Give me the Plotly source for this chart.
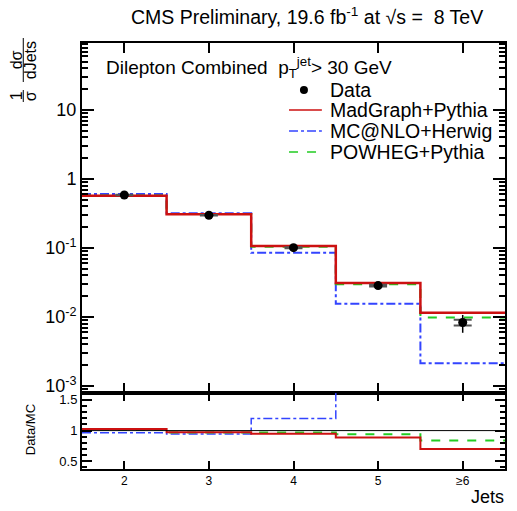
import plotly.graph_objects as go

# jet multiplicity bins
n_jets = [2, 3, 4, 5, 6]
jet_labels = ["2", "3", "4", "5", "≥6"]

# normalised cross section 1/sigma dsigma/dJets
data_vals = [0.586, 0.298, 0.101, 0.0285, 0.0083]
data_stat = [0.004, 0.003, 0.0015, 0.0008, 0.0008]
data_total = [0.012, 0.008, 0.004, 0.0028, 0.0024]
madgraph = [0.573, 0.308, 0.107, 0.0311, 0.01155]
mcatnlo = [0.606, 0.318, 0.085, 0.0156, 0.00213]
powheg = [0.578, 0.310, 0.104, 0.0298, 0.0098]

# data / MC ratios
ratio_madgraph = [1.026, 0.975, 0.95, 0.886, 0.70]
ratio_mcatnlo = [0.967, 0.945, 1.195, 1.85, 3.9]
ratio_powheg = [1.015, 0.97, 0.968, 0.94, 0.84]

RED = "#cc1111"
BLUE = "#3344ff"
GREEN = "#22cc22"
FONT = "Liberation Sans, Arial, sans-serif"

W, H = 517, 511
L, R, T, B = 82, 10, 43, 42


def px2x(px):
    return (px - L) / (W - L - R)


def py2y(py):
    return (H - B - py) / (H - T - B)


def steps(vals):
    edges = [c - 0.5 for c in n_jets] + [n_jets[-1] + 0.5]
    return edges, list(vals) + [vals[-1]]


fig = go.Figure()

# main panel histograms
for vals, color, dash, width in [
    (mcatnlo, BLUE, "dashdot", 2),
    (powheg, GREEN, "dash", 2),
    (madgraph, RED, "solid", 2.5),
]:
    xs, ys = steps(vals)
    fig.add_trace(go.Scatter(x=xs, y=ys, mode="lines", line_shape="hv",
                             line=dict(color=color, dash=dash, width=width),
                             xaxis="x", yaxis="y", showlegend=False))

# data: total error, stat error with caps, points
fig.add_trace(go.Scatter(x=n_jets, y=data_vals, mode="markers",
                         marker=dict(size=1, color="black"),
                         error_y=dict(type="data", array=data_total, width=0,
                                      thickness=1.5, color="black"),
                         xaxis="x", yaxis="y", showlegend=False))
fig.add_trace(go.Scatter(x=n_jets, y=data_vals, mode="markers",
                         marker=dict(size=9, color="black"),
                         error_y=dict(type="data", array=data_stat, width=9,
                                      thickness=2, color="#555555"),
                         xaxis="x", yaxis="y", showlegend=False))

# ratio panel
for vals, color, dash, width in [
    (ratio_mcatnlo, BLUE, "dashdot", 1.5),
    (ratio_powheg, GREEN, "dash", 2),
    (ratio_madgraph, RED, "solid", 2),
]:
    xs, ys = steps(vals)
    fig.add_trace(go.Scatter(x=xs, y=ys, mode="lines", line_shape="hv",
                             line=dict(color=color, dash=dash, width=width),
                             xaxis="x2", yaxis="y2", showlegend=False))

fig.add_shape(type="line", xref="x2 domain", yref="y2", x0=0, x1=1, y0=1, y1=1,
              line=dict(color="black", width=1))

axis_common = dict(showline=True, linewidth=2, linecolor="black", mirror="allticks",
                   ticks="inside", tickcolor="black", showgrid=False, zeroline=False)

minor_log = [m * 10 ** e for e in range(-4, 2) for m in range(2, 10)]

fig.update_layout(
    width=W, height=H,
    margin=dict(l=L, r=R, t=T, b=B),
    paper_bgcolor="white", plot_bgcolor="white",
    font=dict(family=FONT, color="black"),
    showlegend=False,
    xaxis=dict(domain=[0, 1], range=[1.5, 6.5], anchor="y", tickvals=n_jets,
               showticklabels=False, ticklen=10, tickwidth=1.5, **axis_common),
    yaxis=dict(domain=[0.1784, 1], type="log", range=[-3.102, 1.971], anchor="x",
               tickvals=[1e-3, 1e-2, 1e-1, 1, 10],
               ticktext=["10<sup>-3</sup>", "10<sup>-2</sup>", "10<sup>-1</sup>", "1", "10"],
               ticklen=12, tickwidth=1.5, tickfont=dict(size=18),
               minor=dict(tickvals=minor_log, ticks="inside", ticklen=6, tickcolor="black",
                          tickwidth=1.5, showgrid=False),
               **axis_common),
    xaxis2=dict(domain=[0, 1], range=[1.5, 6.5], anchor="y2", tickvals=n_jets,
                ticktext=jet_labels, tickfont=dict(size=12), ticklen=8, tickwidth=1.5,
                **axis_common),
    yaxis2=dict(domain=[0, 0.1784], range=[0.375, 1.612], anchor="x2",
                tickvals=[0.5, 1, 1.5], ticktext=["0.5", "1", "1.5"],
                tickfont=dict(size=13), ticklen=10, tickwidth=1.5,
                minor=dict(dtick=0.1, ticks="inside", ticklen=5, tickcolor="black",
                           tickwidth=1.5, showgrid=False),
                **axis_common),
)

ann = []
ann.append(dict(x=px2x(308), y=py2y(16), text="CMS Preliminary, 19.6 fb<sup>-1</sup> at √s =  8 TeV",
                font=dict(size=19.5)))
ann.append(dict(x=px2x(104), y=py2y(67), xanchor="left",
                text="Dilepton Combined  p<sub>T</sub><sup>jet</sup>> 30 GeV", font=dict(size=19)))
ann.append(dict(x=px2x(508), y=py2y(497), xanchor="right", text="Jets", font=dict(size=18)))
ann.append(dict(x=px2x(30), y=py2y(430), text="Data/MC", textangle=-90, font=dict(size=13)))
# y-axis title as stacked fractions
ann.append(dict(x=px2x(16), y=py2y(96), text="1", textangle=-90, font=dict(size=16)))
ann.append(dict(x=px2x(30), y=py2y(96), text="σ", textangle=-90, font=dict(size=16)))
ann.append(dict(x=px2x(16), y=py2y(60), text="dσ", textangle=-90, font=dict(size=16)))
ann.append(dict(x=px2x(30), y=py2y(60), text="dJets", textangle=-90, font=dict(size=16)))

# legend
legend_items = [
    ("Data", None, None, 90),
    ("MadGraph+Pythia", RED, "solid", 110),
    ("MC@NLO+Herwig", BLUE, "dashdot", 131),
    ("POWHEG+Pythia", GREEN, "dash", 152),
]
for name, color, dash, ypx in legend_items:
    ann.append(dict(x=px2x(329), y=py2y(ypx), xanchor="left", text=name, font=dict(size=19.5)))
    if color is None:
        fig.add_shape(type="circle", xref="paper", yref="paper", xsizemode="pixel",
                      ysizemode="pixel", xanchor=px2x(305), yanchor=py2y(ypx),
                      x0=-4, x1=4, y0=-4, y1=4, fillcolor="black", line=dict(width=0))
    else:
        fig.add_shape(type="line", xref="paper", yref="paper", x0=px2x(290), x1=px2x(323),
                      y0=py2y(ypx), y1=py2y(ypx), line=dict(color=color, dash=dash, width=1.5))

for a in ann:
    a.setdefault("xanchor", "center")
    a.update(xref="paper", yref="paper", yanchor="middle", showarrow=False)
    fig.add_annotation(**a)

# fraction bars of the y title
fig.add_shape(type="line", xref="paper", yref="paper", x0=px2x(23), x1=px2x(23),
              y0=py2y(90), y1=py2y(102), line=dict(color="black", width=1))
fig.add_shape(type="line", xref="paper", yref="paper", x0=px2x(23), x1=px2x(23),
              y0=py2y(38), y1=py2y(82), line=dict(color="black", width=1))

fig.write_html("out.html", config={"displayModeBar": False},
               post_script="document.body.style.margin='0px';")
